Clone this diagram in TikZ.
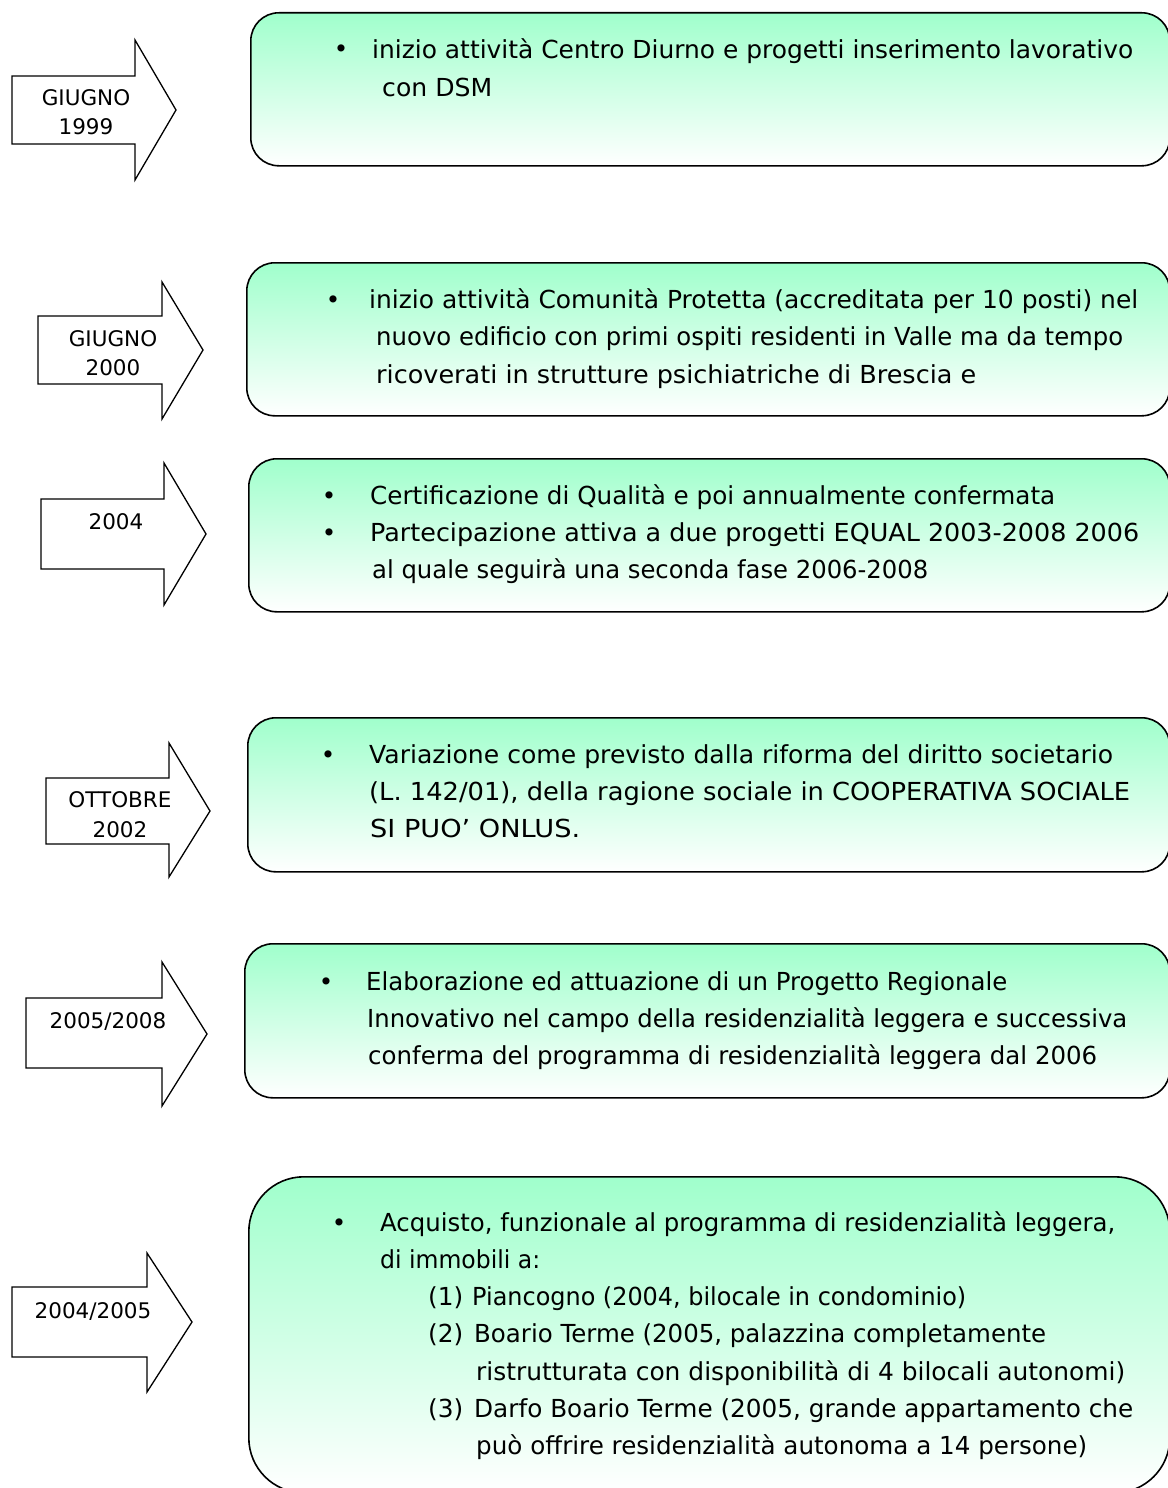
\documentclass[tikz,border=0pt]{standalone}
\usepackage{graphicx}
\usepackage{fontspec}
\setmainfont{DejaVu Sans}
\definecolor{mint}{RGB}{160,255,204}
\newcommand\fitw[2]{\resizebox{#1pt}{\height}{#2}}
\tikzset{
  box/.style={draw=black, line width=1.6pt, top color=mint, bottom color=white, rounded corners=28pt, anchor=north west, inner sep=0pt},
  arr/.style={draw=black, line width=1.3pt, fill=white, line join=miter},
  lbl/.style={font=\fontsize{21.5}{29}\selectfont, anchor=base, inner sep=0pt},
  txt/.style={font=\fontsize{24.8}{37}\selectfont, anchor=base west, inner sep=0pt},
  bul/.style={font=\fontsize{24.5}{37}\selectfont, anchor=base, inner sep=0pt},
}
\begin{document}
\begin{tikzpicture}[x=1pt,y=-1pt]
\useasboundingbox (0,0) rectangle (1167,1488);
% boxes
\node[box, minimum width=919pt, minimum height=153pt] (box1) at (250,12) {};
\node[box, minimum width=923pt, minimum height=153pt] (box2) at (246,262) {};
\node[box, minimum width=921pt, minimum height=153pt] (box3) at (248,458) {};
\node[box, minimum width=922pt, minimum height=154pt] (box4) at (247,717) {};
\node[box, minimum width=925pt, minimum height=154pt] (box5) at (244,943) {};
\node[box, rounded corners=55pt, minimum width=921pt, minimum height=316pt] (box6) at (248,1176) {};
% arrows
\draw[arr] (12,76) -- (135,76) -- (135,40) -- (176,110) -- (135,180) -- (135,144) -- (12,144) -- cycle;
\draw[arr] (38,316) -- (162,316) -- (162,282) -- (203,350) -- (162,419) -- (162,384) -- (38,384) -- cycle;
\draw[arr] (41,499) -- (164,499) -- (164,463) -- (206,534) -- (164,605) -- (164,569) -- (41,569) -- cycle;
\draw[arr] (46,778) -- (169,778) -- (169,743) -- (210,811) -- (169,877) -- (169,844) -- (46,844) -- cycle;
\draw[arr] (26,998) -- (162,998) -- (162,962) -- (207,1034) -- (162,1106) -- (162,1068) -- (26,1068) -- cycle;
\draw[arr] (12,1287) -- (147,1287) -- (147,1253) -- (192,1322) -- (147,1392) -- (147,1357) -- (12,1357) -- cycle;
% arrow labels
\node[lbl] (a1a) at (86,105) {GIUGNO};
\node[lbl] (a1b) at (86,134) {1999};
\node[lbl] (a2a) at (113,346) {GIUGNO};
\node[lbl] (a2b) at (113,375) {2000};
\node[lbl] (a3) at (116,529) {2004};
\node[lbl] (a4a) at (120,807) {OTTOBRE};
\node[lbl] (a4b) at (120,837) {2002};
\node[lbl] (a5) at (108,1028) {2005/2008};
\node[lbl] (a6) at (93,1318) {2004/2005};
% box 1
\node[bul] (b1b) at (341,58) {•};
\node[txt] (b1l1) at (372,58) {\fitw{761}{inizio attività Centro Diurno e progetti inserimento lavorativo}};
\node[txt] (b1l2) at (382,96) {\fitw{110}{con DSM}};
% box 2
\node[bul] (b2b) at (333,308) {•};
\node[txt] (b2l1) at (369,308) {\fitw{769}{inizio attività Comunità Protetta (accreditata per 10 posti) nel}};
\node[txt] (b2l2) at (376,345) {\fitw{747}{nuovo edificio con primi ospiti residenti in Valle ma da tempo}};
\node[txt] (b2l3) at (376,383) {\fitw{600}{ricoverati in strutture psichiatriche di Brescia e}};
% box 3
\node[bul] (b3b1) at (329,504) {•};
\node[bul] (b3b2) at (329,541) {•};
\node[txt] (b3l1) at (370,504) {\fitw{685}{Certificazione di Qualità e poi annualmente confermata}};
\node[txt] (b3l2) at (370,541) {\fitw{769}{Partecipazione attiva a due progetti EQUAL 2003-2008 2006}};
\node[txt] (b3l3) at (372,578) {\fitw{556}{al quale seguirà una seconda fase 2006-2008}};
% box 4
\node[bul] (b4b) at (328,763) {•};
\node[txt] (b4l1) at (369,763) {\fitw{744}{Variazione come previsto dalla riforma del diritto societario}};
\node[txt] (b4l2) at (369,800) {\fitw{761}{(L. 142/01), della ragione sociale in COOPERATIVA SOCIALE}};
\node[txt] (b4l3) at (370,837) {\fitw{210}{SI PUO’ ONLUS.}};
% box 5
\node[bul] (b5b) at (326,990) {•};
\node[txt] (b5l1) at (366,990) {\fitw{641}{Elaborazione ed attuazione di un Progetto Regionale}};
\node[txt] (b5l2) at (367,1027) {\fitw{760}{Innovativo nel campo della residenzialità leggera e successiva}};
\node[txt] (b5l3) at (368,1064) {\fitw{729}{conferma del programma di residenzialità leggera dal 2006}};
% box 6
\node[bul] (b6b) at (339,1231) {•};
\node[txt] (b6l1) at (380,1231) {\fitw{735}{Acquisto, funzionale al programma di residenzialità leggera,}};
\node[txt] (b6l2) at (380,1268) {\fitw{160}{di immobili a:}};
\node[txt] (b6n1) at (428,1305) {(1)};
\node[txt] (b6l3) at (472,1305) {\fitw{494}{Piancogno (2004, bilocale in condominio)}};
\node[txt] (b6n2) at (428,1342) {(2)};
\node[txt] (b6l4) at (474,1342) {\fitw{572}{Boario Terme (2005, palazzina completamente}};
\node[txt] (b6l5) at (476,1380) {\fitw{649}{ristrutturata con disponibilità di 4 bilocali autonomi)}};
\node[txt] (b6n3) at (428,1417) {(3)};
\node[txt] (b6l6) at (474,1417) {\fitw{659}{Darfo Boario Terme (2005, grande appartamento che}};
\node[txt] (b6l7) at (476,1454) {\fitw{611}{può offrire residenzialità autonoma a 14 persone)}};
\end{tikzpicture}
\end{document}
